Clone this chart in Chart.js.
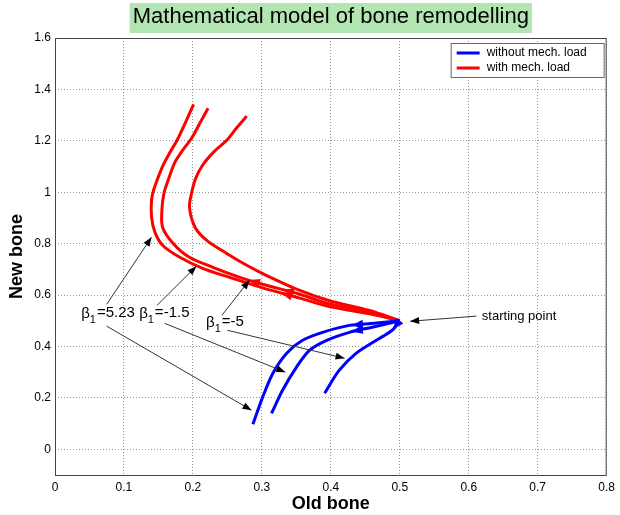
<!DOCTYPE html>
<html lang="en">
<head>
<meta charset="utf-8" />
<title>Mathematical model of bone remodelling</title>
<script src="https://cdn.jsdelivr.net/npm/chart.js"></script>
<style>
  body { margin: 0; background: #fff; }
  #boneChart { display: block; }
</style>
</head>
<body>
<canvas id="boneChart" width="620" height="515"></canvas>
<script>
  // tick values
  const xTicks = [0, 0.1, 0.2, 0.3, 0.4, 0.5, 0.6, 0.7, 0.8];
  const yTicks = [0, 0.2, 0.4, 0.6, 0.8, 1, 1.2, 1.4, 1.6];

  const seriesNames = ['without mech. load', 'with mech. load'];
  const betaValues = ['5.23', '-1.5', '-5'];

  // without mechanical load (blue), one curve per beta_1
  const oldFree523 = [0.5, 0.463, 0.427, 0.388, 0.359, 0.336, 0.316, 0.301, 0.287];
  const newFree523 = [0.5, 0.490, 0.482, 0.455, 0.424, 0.374, 0.296, 0.202, 0.097];
  const oldFree15 = [0.5, 0.460, 0.427, 0.394, 0.369, 0.350, 0.330, 0.314];
  const newFree15 = [0.5, 0.475, 0.455, 0.424, 0.385, 0.319, 0.230, 0.140];
  const oldFree5 = [0.5, 0.489, 0.466, 0.437, 0.412, 0.391];
  const newFree5 = [0.5, 0.463, 0.424, 0.374, 0.307, 0.218];

  // with mechanical load (red)
  const oldLoad523 = [0.5, 0.456, 0.398, 0.355, 0.301, 0.253, 0.214, 0.181, 0.156, 0.145, 0.140, 0.140, 0.143, 0.149, 0.156, 0.166, 0.177, 0.190, 0.201];
  const newLoad523 = [0.5, 0.527, 0.555, 0.588, 0.628, 0.669, 0.704, 0.747, 0.794, 0.844, 0.903, 0.969, 1.008, 1.054, 1.101, 1.152, 1.202, 1.276, 1.342];
  const oldLoad15 = [0.5, 0.456, 0.398, 0.355, 0.301, 0.268, 0.229, 0.195, 0.171, 0.156, 0.155, 0.158, 0.165, 0.174, 0.185, 0.198, 0.210, 0.222];
  const newLoad15 = [0.5, 0.535, 0.565, 0.603, 0.642, 0.669, 0.708, 0.747, 0.802, 0.864, 0.930, 0.996, 1.054, 1.117, 1.163, 1.210, 1.268, 1.327];
  const oldLoad5 = [0.5, 0.456, 0.398, 0.355, 0.307, 0.278, 0.249, 0.220, 0.203, 0.195, 0.198, 0.204, 0.214, 0.230, 0.249, 0.263, 0.278];
  const newLoad5 = [0.5, 0.540, 0.578, 0.618, 0.676, 0.716, 0.762, 0.813, 0.864, 0.942, 0.996, 1.054, 1.105, 1.156, 1.202, 1.249, 1.296];

  const FONT = "'Liberation Sans', Arial, sans-serif";
  const BLUE = '#0000ff';
  const RED = '#ff0000';
  const titleText = 'Mathematical model of bone remodelling';

  function pts(xs, ys) {
    return xs.map((x, i) => ({ x: x, y: ys[i] }));
  }

  function curve(label, xs, ys, color) {
    return {
      label: label,
      data: pts(xs, ys),
      showLine: true,
      borderColor: color,
      backgroundColor: color,
      borderWidth: 3,
      pointRadius: 0,
      tension: 0.3,
      fill: false
    };
  }

  const datasets = [
    curve(seriesNames[0], oldFree523, newFree523, BLUE),
    curve(seriesNames[0], oldFree15, newFree15, BLUE),
    curve(seriesNames[0], oldFree5, newFree5, BLUE),
    curve(seriesNames[1], oldLoad523, newLoad523, RED),
    curve(seriesNames[1], oldLoad15, newLoad15, RED),
    curve(seriesNames[1], oldLoad5, newLoad5, RED)
  ];

  // direction arrowheads on the curves: [dataset, segment, fraction]
  const dirMarks = [[0, 1, 0.9], [1, 1, 0.9], [2, 0, 0.9], [3, 3, 0.5], [4, 3, 0.45], [4, 4, 0.6]];

  // annotation arrows, in data units: [fromX, fromY, toX, toY]
  const notes = [
    [0.075, 0.564, 0.140, 0.825],
    [0.075, 0.479, 0.285, 0.152],
    [0.148, 0.560, 0.205, 0.712],
    [0.159, 0.490, 0.334, 0.300],
    [0.242, 0.521, 0.282, 0.658],
    [0.250, 0.463, 0.420, 0.354],
    [0.611, 0.518, 0.515, 0.498]
  ];
  // where the beta labels sit (left edge, middle)
  const betaSpots = [[0.038, 0.529], [0.122, 0.529], [0.219, 0.494]];
  const startSpot = [0.619, 0.518];

  function arrowHead(ctx, x, y, ang, len, half, color) {
    ctx.save();
    ctx.translate(x, y);
    ctx.rotate(ang);
    ctx.beginPath();
    ctx.moveTo(0, 0);
    ctx.lineTo(-len, -half);
    ctx.lineTo(-len, half);
    ctx.closePath();
    ctx.fillStyle = color;
    ctx.fill();
    ctx.restore();
  }

  const decorations = {
    id: 'decorations',
    beforeDraw(chart) {
      const { ctx, chartArea, titleBlock } = chart;
      ctx.save();
      ctx.font = '22px ' + FONT;
      const w = ctx.measureText(titleText).width;
      const cx = (chartArea.left + chartArea.right) / 2;
      ctx.fillStyle = '#b3e5b3';
      ctx.fillRect(cx - w / 2 - 3, titleBlock.top + 3, w + 6, 30);
      ctx.restore();
    },
    afterDatasetsDraw(chart) {
      const { ctx } = chart;
      const sx = chart.scales.x, sy = chart.scales.y;

      // arrowheads along the trajectories
      dirMarks.forEach(([d, s, t]) => {
        const pts = chart.getDatasetMeta(d).data;
        const a = pts[s], b = pts[s + 1];
        const x = a.x + (b.x - a.x) * t;
        const y = a.y + (b.y - a.y) * t;
        arrowHead(ctx, x, y, Math.atan2(b.y - a.y, b.x - a.x), 11, 4.5, datasets[d].borderColor);
      });

      // black annotation arrows
      ctx.save();
      ctx.strokeStyle = '#333';
      ctx.lineWidth = 1;
      notes.forEach(([x0, y0, x1, y1]) => {
        const p0x = sx.getPixelForValue(x0), p0y = sy.getPixelForValue(y0);
        const p1x = sx.getPixelForValue(x1), p1y = sy.getPixelForValue(y1);
        ctx.beginPath();
        ctx.moveTo(p0x, p0y);
        ctx.lineTo(p1x, p1y);
        ctx.stroke();
        arrowHead(ctx, p1x, p1y, Math.atan2(p1y - p0y, p1x - p0x), 9, 3.5, '#000');
      });

      ctx.fillStyle = '#000';
      ctx.textBaseline = 'middle';
      ctx.textAlign = 'left';
      betaValues.forEach((v, i) => {
        let x = sx.getPixelForValue(betaSpots[i][0]);
        const y = sy.getPixelForValue(betaSpots[i][1]);
        ctx.font = '15px ' + FONT;
        ctx.fillText('β', x, y + 1);
        x += ctx.measureText('β').width;
        ctx.font = '11px ' + FONT;
        ctx.fillText('1', x, y + 7);
        x += ctx.measureText('1').width + 1;
        ctx.font = '15px ' + FONT;
        ctx.fillText('=' + v, x, y);
      });
      ctx.font = '13px ' + FONT;
      ctx.fillText('starting point', sx.getPixelForValue(startSpot[0]), sy.getPixelForValue(startSpot[1]));
      ctx.restore();
    },
    afterDraw(chart) {
      const { ctx, chartArea } = chart;
      ctx.save();
      // axes box
      ctx.strokeStyle = '#444';
      ctx.lineWidth = 1;
      ctx.strokeRect(chartArea.left + 0.5, chartArea.top + 0.5, chartArea.width - 1, chartArea.height);

      // legend box
      const bw = 153, bh = 34;
      const bx = chartArea.right - bw - 3, by = chartArea.top + 5;
      ctx.fillStyle = '#fff';
      ctx.fillRect(bx, by, bw, bh);
      ctx.strokeStyle = '#666';
      ctx.strokeRect(bx + 0.5, by + 0.5, bw, bh);
      ctx.font = '12px ' + FONT;
      ctx.textBaseline = 'middle';
      ctx.lineWidth = 3;
      [BLUE, RED].forEach((c, i) => {
        const y = by + 10 + i * 15;
        ctx.strokeStyle = c;
        ctx.beginPath();
        ctx.moveTo(bx + 6, y);
        ctx.lineTo(bx + 29, y);
        ctx.stroke();
        ctx.fillStyle = '#000';
        ctx.fillText(seriesNames[i], bx + 36, y);
      });
      ctx.restore();
    }
  };

  const tickFmt = v => String(v);

  new Chart(document.getElementById('boneChart'), {
    type: 'scatter',
    data: { datasets: datasets },
    plugins: [decorations],
    options: {
      responsive: false,
      animation: false,
      layout: { padding: { left: 0, right: 12, top: 0, bottom: 0 } },
      plugins: {
        legend: { display: false },
        tooltip: { enabled: false },
        title: {
          display: true,
          text: titleText,
          fullSize: false,
          color: '#000',
          font: { family: FONT, size: 22, weight: 'normal' },
          padding: { top: 4, bottom: 7.6 }
        }
      },
      scales: {
        x: {
          type: 'linear',
          min: 0,
          max: 0.8,
          afterBuildTicks: s => { s.ticks = xTicks.map(v => ({ value: v })); },
          afterFit: s => { s.height = 40; },
          ticks: { callback: tickFmt, color: '#000', font: { family: FONT, size: 12 }, padding: 5, maxRotation: 0 },
          grid: { color: '#999', drawTicks: false },
          border: { display: false, dash: [1, 2] },
          title: { display: true, text: 'Old bone', color: '#000', font: { family: FONT, size: 18, weight: 'bold' }, padding: { top: 0, bottom: 0 } }
        },
        y: {
          type: 'linear',
          min: -0.1,
          max: 1.6,
          afterBuildTicks: s => { s.ticks = yTicks.map(v => ({ value: v })); },
          afterFit: s => { s.width = 55; },
          ticks: { callback: tickFmt, color: '#000', font: { family: FONT, size: 12 }, padding: 4 },
          grid: { color: '#999', drawTicks: false },
          border: { display: false, dash: [1, 2] },
          title: { display: true, text: 'New bone', color: '#000', font: { family: FONT, size: 18, weight: 'bold' }, padding: { top: 6, bottom: 0 } }
        }
      }
    }
  });
</script>
</body>
</html>
